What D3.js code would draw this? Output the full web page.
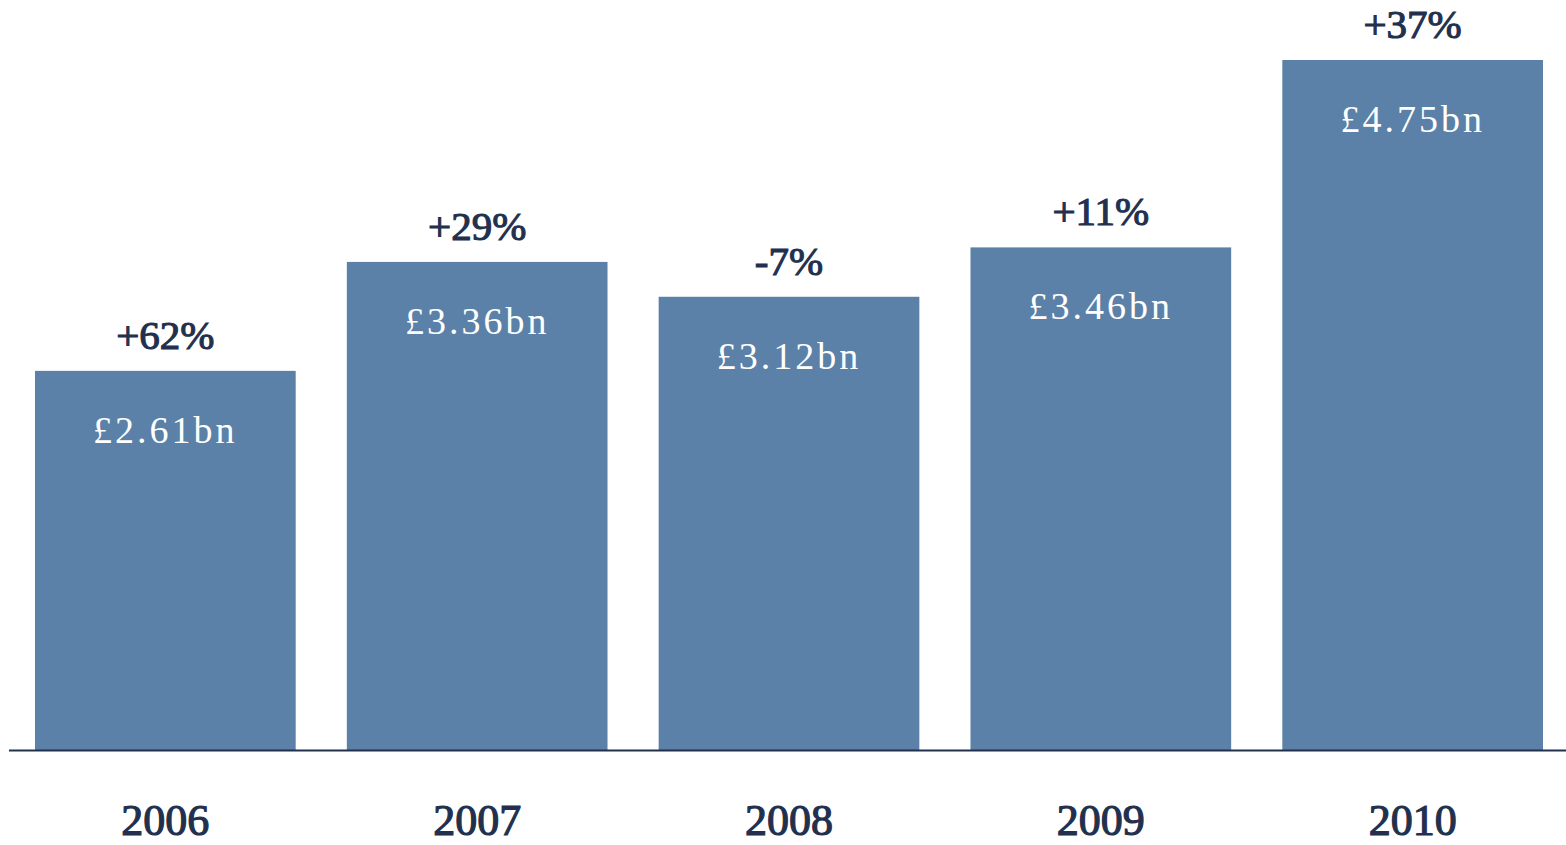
<!DOCTYPE html>
<html>
<head>
<meta charset="utf-8">
<script src="https://cdn.jsdelivr.net/npm/d3@7"></script>
<style>
  html, body { margin: 0; padding: 0; background: #ffffff; }
  svg { display: block; }
</style>
</head>
<body>
<svg id="chart" width="1566" height="845"></svg>
<script>
// Annual totals (£bn) and year-on-year change
const years = ["2006", "2007", "2008", "2009", "2010"];
const values = [2.61, 3.36, 3.12, 3.46, 4.75];
const changes = ["+62%", "+29%", "-7%", "+11%", "+37%"];
const valueLabels = ["£2.61bn", "£3.36bn", "£3.12bn", "£3.46bn", "£4.75bn"];

const barColor = "#5b81a8";
const inkColor = "#22304d";
const serif = "'Liberation Serif', 'DejaVu Serif', serif";

const svg = d3.select("#chart");
const baseline = 750;

const x = d3.scaleBand()
  .domain(years)
  .range([35, 1543])
  .paddingInner(0.164)
  .paddingOuter(0);

const y = d3.scaleLinear()
  .domain([0, 4.75])
  .range([baseline, 60]);

const data = years.map((yr, i) => ({
  year: yr, value: values[i], change: changes[i], label: valueLabels[i]
}));

// Bars
svg.append("g").selectAll("rect")
  .data(data)
  .join("rect")
  .attr("x", d => x(d.year))
  .attr("y", d => y(d.value))
  .attr("width", x.bandwidth())
  .attr("height", d => baseline - y(d.value))
  .attr("fill", barColor);

// Baseline
svg.append("line")
  .attr("x1", 9).attr("x2", 1566)
  .attr("y1", baseline + 0.5).attr("y2", baseline + 0.5)
  .attr("stroke", inkColor)
  .attr("stroke-width", 2.2);

// Value labels inside bars
svg.append("g").selectAll("text")
  .data(data)
  .join("text")
  .attr("x", d => x(d.year) + x.bandwidth() / 2)
  .attr("y", d => y(d.value) + 72)
  .attr("text-anchor", "middle")
  .attr("font-family", serif)
  .attr("font-size", 38)
  .attr("letter-spacing", 3)
  .attr("fill", "#ffffff")
  .text(d => d.label);

// Change labels above bars (medium weight via a thin matching stroke)
svg.append("g").selectAll("text")
  .data(data)
  .join("text")
  .attr("x", d => x(d.year) + x.bandwidth() / 2)
  .attr("y", d => y(d.value) - 22)
  .attr("text-anchor", "middle")
  .attr("font-family", serif)
  .attr("font-size", 41)
  .attr("fill", inkColor)
  .attr("stroke", inkColor)
  .attr("stroke-width", 1.1)
  .text(d => d.change);

// Year axis labels
const xAxis = d3.axisBottom(x).tickSize(0).tickPadding(0);
const axisG = svg.append("g")
  .attr("transform", `translate(0, 835)`)
  .call(xAxis);
axisG.select(".domain").remove();
axisG.selectAll("text")
  .attr("dy", 0)
  .attr("font-family", serif)
  .attr("font-size", 44)
  .attr("fill", inkColor)
  .attr("stroke", inkColor)
  .attr("stroke-width", 1.2);
</script>
</body>
</html>
